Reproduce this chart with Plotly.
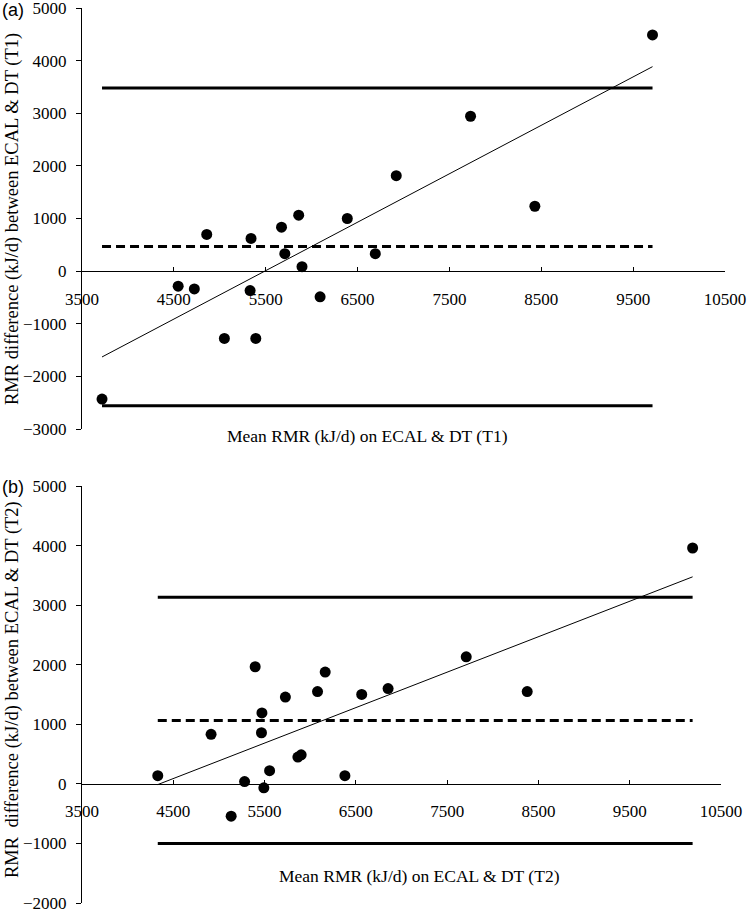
import numpy as np
import plotly.graph_objects as go

# ---------- data: panel (a) T1 ----------
mean_t1 = [9711, 7730, 6921, 8430, 5859, 6388, 5672, 4858, 5340, 5708,
           6693, 5895, 4547, 4723, 5330, 6092, 5050, 5392, 3718]
diff_t1 = [4489, 2943, 1814, 1233, 1063, 1000, 836, 697, 621, 331,
           331, 85, -287, -338, -369, -489, -1278, -1278, -2432]
bias_t1 = 470
upper_t1 = 3480
lower_t1 = -2558

# ---------- data: panel (b) T2 ----------
mean_t2 = [10189, 7709, 5397, 6164, 6080, 8377, 6853, 6564, 5728, 5471,
           4914, 5466, 5901, 5865, 5555, 4330, 6380, 5281, 5492, 5134]
diff_t2 = [3959, 2132, 1966, 1877, 1550, 1550, 1600, 1501, 1456, 1190,
           831, 858, 487, 449, 221, 138, 138, 39, -66, -543]
bias_t2 = 1063
upper_t2 = 3134
lower_t2 = -1002

x_ticks = [3500, 4500, 5500, 6500, 7500, 8500, 9500, 10500]
x_ticktext = ["3500", "4500", "5500", "6500", "7500", "8500", "9500", "10500"]
y_ticks_a = [-3000, -2000, -1000, 0, 1000, 2000, 3000, 4000, 5000]
y_ticks_b = [-2000, -1000, 0, 1000, 2000, 3000, 4000, 5000]
yrange_a = [-3000, 5000]
yrange_b = [-2000, 5000]
xrange_ = [3500, 10500]

SERIF = "Liberation Serif, Times New Roman, serif"
SANS = "Liberation Sans, Arial, sans-serif"

W, H = 748, 913
ML, MR, MT, MB = 82, 23, 8, 10
PH = H - MT - MB
PW = W - ML - MR
BOT = H - MB  # pixel row of the lower panel's bottom

dom_a = [(BOT - 429) / PH, 1.0]
dom_b = [0.0, (BOT - 486) / PH]
xdom_a = [0.0, 1.0]
xdom_b = [0.0, (721 - ML) / PW]


def zero_pos(dom, yr):
    return dom[0] + (0 - yr[0]) / (yr[1] - yr[0]) * (dom[1] - dom[0])


fig = go.Figure()


def add_panel(xs, ys, bias, up, lo, xref, yref):
    xs = np.array(xs, dtype=float)
    ys = np.array(ys, dtype=float)
    x0, x1 = xs.min(), xs.max()
    # limits of agreement and mean difference
    for val, dash in [(up, "solid"), (lo, "solid"), (bias, "9px,5px")]:
        fig.add_trace(go.Scatter(x=[x0, x1], y=[val, val], mode="lines",
                                 line=dict(color="black", width=3, dash=dash),
                                 xaxis=xref, yaxis=yref, showlegend=False,
                                 hoverinfo="skip"))
    # regression line
    k, b = np.polyfit(xs, ys, 1)
    fig.add_trace(go.Scatter(x=[x0, x1], y=[k * x0 + b, k * x1 + b], mode="lines",
                             line=dict(color="black", width=1),
                             xaxis=xref, yaxis=yref, showlegend=False))
    fig.add_trace(go.Scatter(x=xs, y=ys, mode="markers",
                             marker=dict(color="black", size=11),
                             xaxis=xref, yaxis=yref, showlegend=False,
                             cliponaxis=False))


add_panel(mean_t1, diff_t1, bias_t1, upper_t1, lower_t1, "x", "y")
add_panel(mean_t2, diff_t2, bias_t2, upper_t2, lower_t2, "x2", "y2")

tickfont = dict(family=SERIF, size=17, color="black")

xaxis_common = dict(range=xrange_, tickvals=x_ticks, ticktext=x_ticktext, showline=True,
                    linecolor="black", linewidth=1, ticks="inside", ticklen=4,
                    tickcolor="black", showgrid=False, zeroline=False, tickfont=tickfont,
                    anchor="free", ticklabelstandoff=12, automargin=False,
                    ticklabeloverflow="allow")
yaxis_common = dict(showline=True, linecolor="black", linewidth=1, ticks="outside",
                    ticklen=5, tickcolor="black", showgrid=False, zeroline=False,
                    tickfont=tickfont, ticklabelstandoff=6, automargin=False,
                    ticklabeloverflow="allow")

fig.update_layout(
    template="none",
    width=W, height=H,
    margin=dict(l=ML, r=MR, t=MT, b=MB, autoexpand=False),
    paper_bgcolor="white", plot_bgcolor="white",
    xaxis=dict(domain=xdom_a, position=zero_pos(dom_a, yrange_a), **xaxis_common),
    yaxis=dict(domain=dom_a, range=yrange_a, tickvals=y_ticks_a, anchor="x", **yaxis_common),
    xaxis2=dict(domain=xdom_b, position=zero_pos(dom_b, yrange_b), **xaxis_common),
    yaxis2=dict(domain=dom_b, range=yrange_b, tickvals=y_ticks_b, anchor="x2", **yaxis_common),
)

ytitle_font = dict(family=SERIF, size=18.5, color="black")
xtitle_font = dict(family=SERIF, size=17.5, color="black")


def px_x(p):
    return (p - ML) / PW


def px_y(p):
    return (BOT - p) / PH


annotations = [
    dict(text="(a)", x=px_x(0), y=px_y(10), xanchor="left", yanchor="middle",
         font=dict(family=SANS, size=18, color="black")),
    dict(text="(b)", x=px_x(0), y=px_y(487), xanchor="left", yanchor="middle",
         font=dict(family=SANS, size=18, color="black")),
    dict(text="RMR difference (kJ/d) between ECAL &amp; DT (T1)", textangle=-90,
         x=px_x(12), y=px_y(219), xanchor="center", yanchor="middle", font=ytitle_font),
    dict(text="RMR\u00a0 difference (kJ/d) between ECAL &amp; DT (T2)", textangle=-90,
         x=px_x(12), y=px_y(690), xanchor="center", yanchor="middle", font=ytitle_font),
    dict(text="Mean RMR (kJ/d) on ECAL &amp; DT (T1)", x=px_x(367), y=px_y(436),
         xanchor="center", yanchor="middle", font=xtitle_font),
    dict(text="Mean RMR (kJ/d) on ECAL &amp; DT (T2)", x=px_x(419), y=px_y(876),
         xanchor="center", yanchor="middle", font=xtitle_font),
]
for a in annotations:
    a.update(xref="paper", yref="paper", showarrow=False)
fig.update_layout(annotations=annotations)

fig.write_html(
    "out.html",
    config={"displayModeBar": False},
    post_script="document.body.style.margin='0';document.body.style.overflow='hidden';",
)
